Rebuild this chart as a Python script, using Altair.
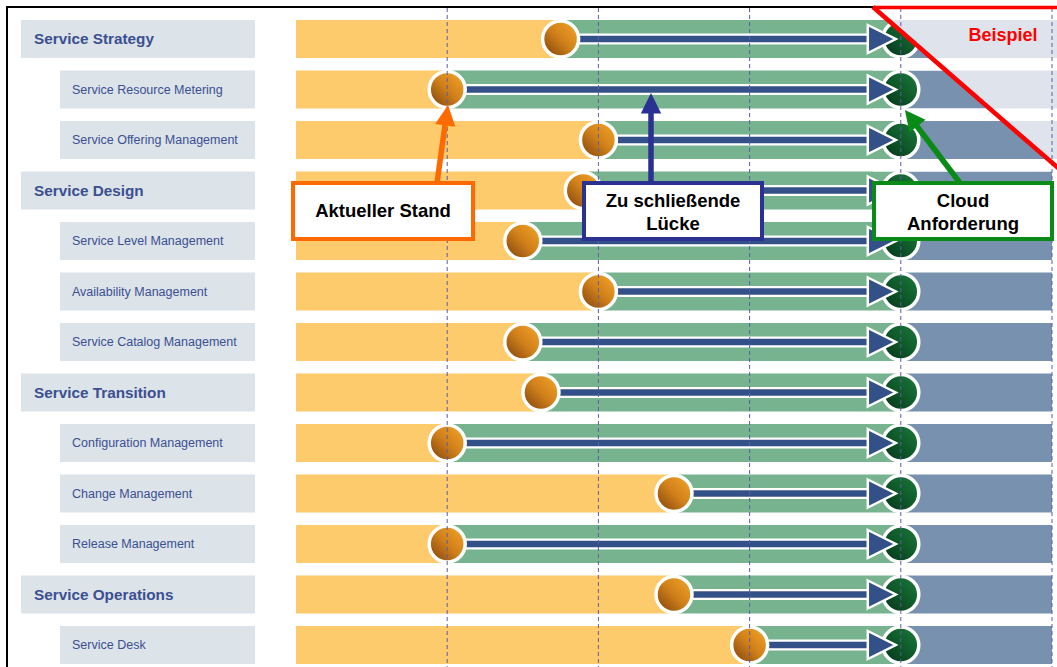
import altair as alt
import pandas as pd

# ---------------- data ----------------
labels = [
    "Service Strategy", "Service Resource Metering", "Service Offering Management",
    "Service Design", "Service Level Management", "Availability Management",
    "Service Catalog Management", "Service Transition", "Configuration Management",
    "Change Management", "Release Management", "Service Operations", "Service Desk",
]
is_header = [True, False, False, True, False, False, False, True, False, False, False, True, False]
current_level = [1.75, 1.0, 2.0, 1.9, 1.5, 2.0, 1.5, 1.62, 1.0, 2.5, 1.0, 2.5, 3.0]
target_level = [4, 4, 4, 4, 4, 4, 4, 4, 4, 4, 4, 4, 4]
max_level = 5
grid_levels = [1, 2, 3, 4, 5]

# ---------------- layout / style ----------------
W, H = 1057, 667
X0_PX, LEVEL_PX = 296, 151.2
ROW0_PX, ROW_PX = 39, 50.5
HALF = 19 / ROW_PX

YELLOW = "#fdca6c"
GREEN = "#76b38e"
BLUE = "#7891ae"
NAVY = "#345089"
BOX = "#dce3e9"
LABEL = "#3b4f91"
FONT = "Liberation Sans"

x_scale = alt.Scale(domain=[-X0_PX / LEVEL_PX, (W - X0_PX) / LEVEL_PX], nice=False, zero=False)
y_scale = alt.Scale(domain=[-ROW0_PX / ROW_PX, (H - ROW0_PX) / ROW_PX], nice=False, zero=False, reverse=True)

df = pd.DataFrame({
    "row": list(range(len(labels))),
    "label": labels,
    "header": is_header,
    "current": current_level,
    "target": target_level,
})
df["start"] = 0
df["end"] = max_level
df["top"] = df["row"] - HALF
df["bottom"] = df["row"] + HALF

X = lambda f: alt.X(f, type="quantitative", scale=x_scale, axis=None)
Y = lambda f: alt.Y(f, type="quantitative", scale=y_scale, axis=None)

base = alt.Chart(df)
dummy = alt.Chart(pd.DataFrame({"a": [0]}))

# label boxes + texts
hdr_box = base.transform_filter("datum.header").mark_rect(fill=BOX).encode(
    x=alt.value(21), x2=alt.value(255), y=Y("top"), y2=alt.Y2("bottom"))
sub_box = base.transform_filter("!datum.header").mark_rect(fill=BOX).encode(
    x=alt.value(60), x2=alt.value(255), y=Y("top"), y2=alt.Y2("bottom"))
hdr_txt = base.transform_filter("datum.header").mark_text(
    align="left", baseline="middle", font=FONT, fontSize=15.3, fontWeight="bold", color=LABEL
).encode(x=alt.value(34), y=Y("row"), text="label:N")
sub_txt = base.transform_filter("!datum.header").mark_text(
    align="left", baseline="middle", font=FONT, fontSize=12.5, color=LABEL
).encode(x=alt.value(72), y=Y("row"), text="label:N")

# bars
bar_y = base.mark_rect(fill=YELLOW).encode(x=X("start"), x2=alt.X2("current"), y=Y("top"), y2=alt.Y2("bottom"))
bar_g = base.mark_rect(fill=GREEN).encode(x=X("current"), x2=alt.X2("target"), y=Y("top"), y2=alt.Y2("bottom"))
bar_b = base.mark_rect(fill=BLUE).encode(x=X("target"), x2=alt.X2("end"), y=Y("top"), y2=alt.Y2("bottom"))

green_grad = alt.Gradient(gradient="linear", x1=0, y1=1, x2=1, y2=0, stops=[
    alt.GradientStop(color="#05301a", offset=0),
    alt.GradientStop(color="#0f5a2a", offset=0.5),
    alt.GradientStop(color="#1d7a3c", offset=1)])
orange_grad = alt.Gradient(gradient="linear", x1=0, y1=1, x2=1, y2=0, stops=[
    alt.GradientStop(color="#7a3e0c", offset=0),
    alt.GradientStop(color="#d0801a", offset=0.5),
    alt.GradientStop(color="#f8a82a", offset=1)])

CIRCLE = 1296  # vega circle: radius = sqrt(size)/2 -> 18 px
tgt_circle = base.mark_point(shape="circle", filled=True, fill=green_grad, stroke="white",
                             strokeWidth=3.5, size=CIRCLE, opacity=1).encode(x=X("target"), y=Y("row"))
shaft_w = base.mark_rule(color="white", strokeWidth=11, x2Offset=-26).encode(
    x=X("current"), x2=alt.X2("target"), y=Y("row"))
shaft_n = base.mark_rule(color=NAVY, strokeWidth=6.5, x2Offset=-26).encode(
    x=X("current"), x2=alt.X2("target"), y=Y("row"))
head = base.mark_point(shape="M-1,-1L1,0L-1,1Z", filled=True, fill=NAVY, stroke="white",
                       strokeWidth=2.5, size=784, opacity=1, xOffset=-19).encode(x=X("target"), y=Y("row"))
cur_circle = base.mark_point(shape="circle", filled=True, fill=orange_grad, stroke="white",
                             strokeWidth=3.5, size=CIRCLE, opacity=1).encode(x=X("current"), y=Y("row"))

# "Beispiel" corner
pale = dummy.mark_point(shape="M-1.02,-0.89L1.02,-0.89L1.02,0.885Z", filled=True, fill="#dfe4ec",
                        strokeWidth=0, size=40000, opacity=1).encode(x=alt.value(975), y=alt.value(96))
gaps = alt.Chart(pd.DataFrame({"g": list(range(-1, 3))})).transform_calculate(
    gt=f"datum.g + {HALF}", gb=f"datum.g + 1 - {HALF}"
).mark_rect(fill="white").encode(x=alt.value(873), x2=alt.value(1057), y=Y("gt:Q"), y2=alt.Y2("gb:Q"))

grid = alt.Chart(pd.DataFrame({"level": grid_levels})).mark_rule(
    color="#5c5ca8", strokeWidth=1, strokeDash=[4, 3]).encode(x=X("level"), y=alt.value(8), y2=alt.value(H))

frame_top = dummy.mark_rule(color="black", strokeWidth=2).encode(
    x=alt.value(6), x2=alt.value(873), y=alt.value(7), y2=alt.value(7))
frame_left = dummy.mark_rule(color="black", strokeWidth=2).encode(
    x=alt.value(7), x2=alt.value(7), y=alt.value(6), y2=alt.value(H))
red_top = dummy.mark_rule(color="#ff0000", strokeWidth=3.5).encode(
    x=alt.value(873), x2=alt.value(W), y=alt.value(7.5), y2=alt.value(7.5))
red_diag = dummy.mark_rule(color="#ff0000", strokeWidth=4.5).encode(
    x=alt.value(873), x2=alt.value(1090), y=alt.value(7), y2=alt.value(7 + 217 * 0.87))
beispiel = dummy.mark_text(font=FONT, fontSize=18, fontWeight="bold", color="#ff0000",
                           align="center", baseline="middle").encode(
    x=alt.value(1003), y=alt.value(36), text=alt.value("Beispiel"))


def callout(x1, x2, text, color, line, tip_center, angle):
    lx1, ly1, lx2, ly2 = line
    return [
        dummy.mark_rule(color=color, strokeWidth=5.5).encode(
            x=alt.value(lx1), y=alt.value(ly1), x2=alt.value(lx2), y2=alt.value(ly2)),
        dummy.mark_point(shape="M0,-1L0.85,0.7L-0.85,0.7Z", filled=True, fill=color, strokeWidth=0,
                         size=576, opacity=1, angle=angle).encode(
            x=alt.value(tip_center[0]), y=alt.value(tip_center[1])),
        dummy.mark_rect(fill="white", stroke=color, strokeWidth=4).encode(
            x=alt.value(x1), x2=alt.value(x2), y=alt.value(183), y2=alt.value(239)),
        dummy.mark_text(font=FONT, fontSize=18.5, fontWeight="bold", color="black", align="center",
                        baseline="middle", lineBreak="\n", lineHeight=23).encode(
            x=alt.value((x1 + x2) / 2), y=alt.value(211 if "\n" not in text else 201),
            text=alt.value(text)),
    ]


c1 = callout(293, 473, "Aktueller Stand", "#ff6a00", (437, 183, 446, 118), (446.4, 117), 8)
c2 = callout(584, 762, "Zu schließende\nLücke", "#2b3192", (651, 183, 651, 106), (651, 105), 0)
c3 = callout(874, 1052, "Cloud\nAnforderung", "#0a8a16", (960, 183, 913, 121), (912.3, 119.5), 322)

chart = alt.layer(
    hdr_box, sub_box, hdr_txt, sub_txt,
    bar_y, bar_g, bar_b, tgt_circle, shaft_w, shaft_n, head, cur_circle,
    pale, gaps, grid, frame_top, frame_left, red_top, red_diag, beispiel,
    *c1, *c2, *c3,
).properties(
    width=W, height=H, padding=0, autosize=alt.AutoSizeParams(type="none"), background="white"
).configure_view(stroke=None)

chart.save("out.html", embed_options={"renderer": "svg", "actions": False})
